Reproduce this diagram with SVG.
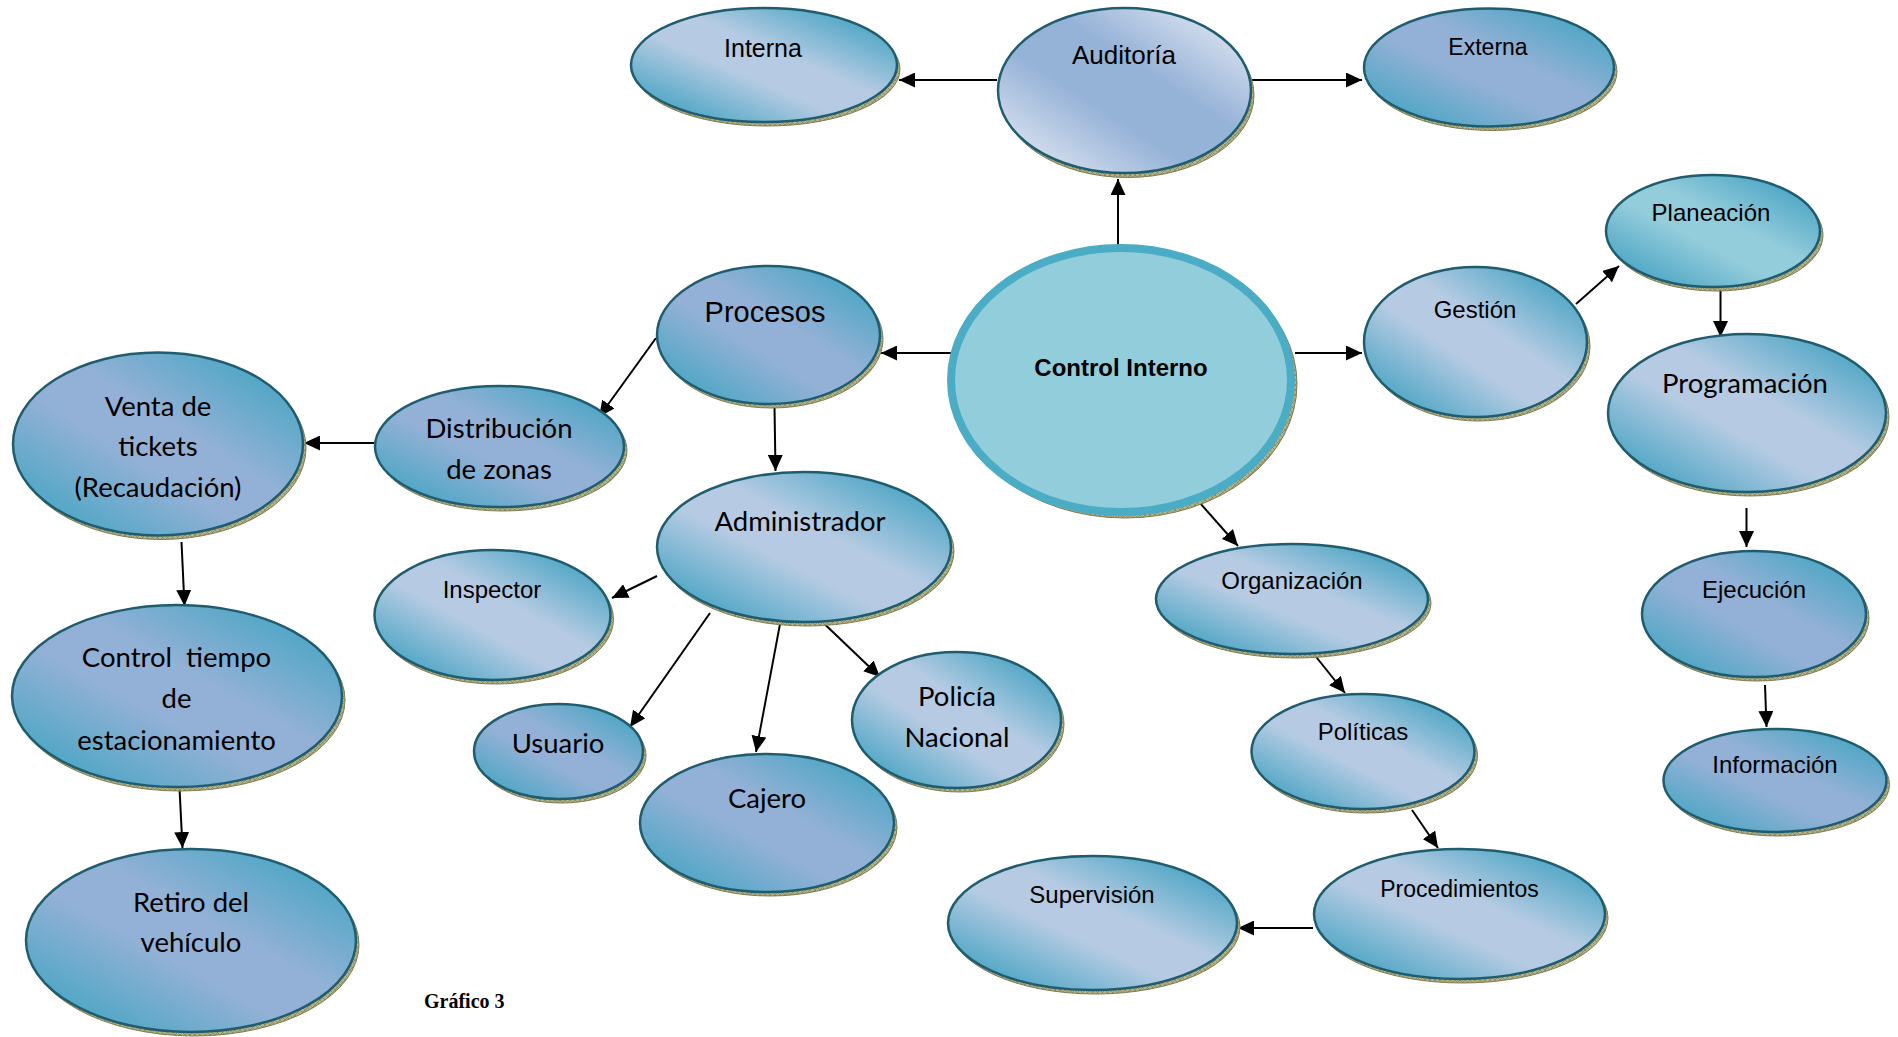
<svg xmlns="http://www.w3.org/2000/svg" width="1898" height="1037" viewBox="0 0 1898 1037">
  <defs>
    <style>
      .node { stroke: #1f5d6e; stroke-width: 2.5; }
      .shadow { fill: url(#grain); stroke: #7d7c52; stroke-width: 1; }
      .arial { font-family: "Liberation Sans", Arial, sans-serif; fill: #000; text-anchor: middle; }
      .cal { font-family: Lato, "Open Sans", sans-serif; fill: #000; text-anchor: middle; font-size: 27.5px; }
      .conn line { stroke: #000; stroke-width: 2; marker-end: url(#ah); }
    </style>
    <!-- diagonal "ocean" fills: teal ends, tinted middle -->
    <linearGradient id="gLav" x1="0" y1="1" x2="1" y2="0">
      <stop offset="0.12" stop-color="#4ea6c5"/>
      <stop offset="0.42" stop-color="#93b1d6"/>
      <stop offset="0.58" stop-color="#93b1d6"/>
      <stop offset="0.88" stop-color="#4ea6c5"/>
    </linearGradient>
    <linearGradient id="gLight" x1="0" y1="1" x2="1" y2="0">
      <stop offset="0.12" stop-color="#4ea6c5"/>
      <stop offset="0.42" stop-color="#b6cbe3"/>
      <stop offset="0.58" stop-color="#b6cbe3"/>
      <stop offset="0.88" stop-color="#4ea6c5"/>
    </linearGradient>
    <linearGradient id="gPlan" x1="0" y1="1" x2="1" y2="0">
      <stop offset="0.12" stop-color="#4ea6c5"/>
      <stop offset="0.42" stop-color="#93ccdb"/>
      <stop offset="0.58" stop-color="#93ccdb"/>
      <stop offset="0.88" stop-color="#4ea6c5"/>
    </linearGradient>
    <linearGradient id="gAud" x1="0" y1="1" x2="1" y2="0">
      <stop offset="0.15" stop-color="#cdd9eb"/>
      <stop offset="0.4" stop-color="#95b2d7"/>
      <stop offset="0.6" stop-color="#95b2d7"/>
      <stop offset="0.85" stop-color="#cdd9eb"/>
    </linearGradient>
    <!-- textured olive drop shadow -->
    <pattern id="grain" width="5" height="5" patternUnits="userSpaceOnUse">
      <rect width="5" height="5" fill="#b3b288"/>
      <path d="M0,0 L5,5 M5,0 L0,5" stroke="#7f7e55" stroke-width="0.7"/>
    </pattern>
    <marker id="ah" viewBox="0 0 16 15" refX="16" refY="7.5" markerWidth="16" markerHeight="15" markerUnits="userSpaceOnUse" orient="auto">
      <path d="M0,0 L16,7.5 L0,15 z" fill="#000"/>
    </marker>
  </defs>

  <rect width="1898" height="1037" fill="#fff"/>

  <!-- connectors -->
  <g id="connectors" class="conn">
    <line x1="1118" y1="245" x2="1118" y2="179"/>
    <line x1="997" y1="80" x2="899" y2="80"/>
    <line x1="1252" y1="80" x2="1362" y2="80"/>
    <line x1="952" y1="353" x2="881" y2="353"/>
    <line x1="1295" y1="353" x2="1362" y2="353"/>
    <line x1="1576" y1="304" x2="1619" y2="266"/>
    <line x1="1720.5" y1="289" x2="1720.5" y2="337"/>
    <line x1="1746.5" y1="508" x2="1746.5" y2="547"/>
    <line x1="1765" y1="685" x2="1766.5" y2="727"/>
    <line x1="1192" y1="494" x2="1238" y2="546"/>
    <line x1="1313" y1="653" x2="1345" y2="693"/>
    <line x1="1412" y1="810" x2="1438" y2="848"/>
    <line x1="1313" y1="928" x2="1238" y2="928"/>
    <line x1="656" y1="338" x2="599" y2="417"/>
    <line x1="374" y1="443" x2="304" y2="443"/>
    <line x1="181.5" y1="542" x2="184.5" y2="606"/>
    <line x1="179.5" y1="788" x2="182.5" y2="848"/>
    <line x1="774.5" y1="406" x2="775.5" y2="471"/>
    <line x1="657" y1="576" x2="612" y2="598"/>
    <line x1="710" y1="613" x2="630" y2="727"/>
    <line x1="780" y1="624" x2="756" y2="752"/>
    <line x1="824.5" y1="624" x2="880" y2="677"/>
  </g>

  <!-- nodes -->
  <g id="interna">
    <ellipse class="shadow" cx="767" cy="69" rx="133" ry="57"/>
    <ellipse class="node" cx="764" cy="65" rx="133" ry="57" fill="url(#gLight)" stroke="#2c8aa2"/>
    <text class="arial" x="763" y="57" font-size="25">Interna</text>
  </g>
  <g id="auditoria">
    <ellipse class="shadow" cx="1127.5" cy="95" rx="126.5" ry="82.5"/>
    <ellipse class="node" cx="1124.5" cy="90.5" rx="126.5" ry="82.5" fill="url(#gAud)" stroke="#2f528f"/>
    <text class="arial" x="1124" y="64" font-size="26">Auditoría</text>
  </g>
  <g id="externa">
    <ellipse class="shadow" cx="1492" cy="71.5" rx="125" ry="59"/>
    <ellipse class="node" cx="1489" cy="67.5" rx="125" ry="59" fill="url(#gLav)"/>
    <text class="arial" x="1488" y="55" font-size="23">Externa</text>
  </g>
  <g id="control-interno">
    <ellipse class="shadow" cx="1125" cy="384" rx="172" ry="134"/>
    <ellipse cx="1121" cy="380" rx="170" ry="132" fill="#92cddc" stroke="#4bacc6" stroke-width="8"/>
    <text class="arial" x="1121" y="376" font-size="24" font-weight="bold">Control Interno</text>
  </g>
  <g id="procesos">
    <ellipse class="shadow" cx="771.5" cy="339" rx="111.5" ry="69"/>
    <ellipse class="node" cx="768.5" cy="335" rx="111.5" ry="69" fill="url(#gLav)"/>
    <text class="arial" x="765" y="322" font-size="29">Procesos</text>
  </g>
  <g id="gestion">
    <ellipse class="shadow" cx="1478.5" cy="346" rx="111.5" ry="75"/>
    <ellipse class="node" cx="1475.5" cy="342" rx="111.5" ry="75" fill="url(#gLight)"/>
    <text class="arial" x="1475" y="318" font-size="24">Gestión</text>
  </g>
  <g id="planeacion">
    <ellipse class="shadow" cx="1716" cy="235" rx="107" ry="56"/>
    <ellipse class="node" cx="1713" cy="231" rx="107" ry="56" fill="url(#gPlan)"/>
    <text class="arial" x="1711" y="221" font-size="24">Planeación</text>
  </g>
  <g id="programacion">
    <ellipse class="shadow" cx="1750" cy="417" rx="139" ry="79"/>
    <ellipse class="node" cx="1747" cy="413" rx="139" ry="79" fill="url(#gLight)"/>
    <text class="cal" x="1745" y="393">Programación</text>
  </g>
  <g id="ejecucion">
    <ellipse class="shadow" cx="1757" cy="618" rx="112" ry="63"/>
    <ellipse class="node" cx="1754" cy="614" rx="112" ry="63" fill="url(#gLav)"/>
    <text class="arial" x="1754" y="598" font-size="24">Ejecución</text>
  </g>
  <g id="informacion">
    <ellipse class="shadow" cx="1778" cy="784.5" rx="111.5" ry="51.5"/>
    <ellipse class="node" cx="1775" cy="780.5" rx="111.5" ry="51.5" fill="url(#gLav)"/>
    <text class="arial" x="1775" y="773" font-size="24">Información</text>
  </g>
  <g id="organizacion">
    <ellipse class="shadow" cx="1295" cy="603" rx="136" ry="55"/>
    <ellipse class="node" cx="1292" cy="599" rx="136" ry="55" fill="url(#gLight)"/>
    <text class="arial" x="1292" y="589" font-size="24">Organización</text>
  </g>
  <g id="politicas">
    <ellipse class="shadow" cx="1366" cy="755.5" rx="111.5" ry="57.5"/>
    <ellipse class="node" cx="1363" cy="751.5" rx="111.5" ry="57.5" fill="url(#gLight)"/>
    <text class="arial" x="1363" y="740" font-size="24">Políticas</text>
  </g>
  <g id="procedimientos">
    <ellipse class="shadow" cx="1462.5" cy="918" rx="145.5" ry="65"/>
    <ellipse class="node" cx="1459.5" cy="914" rx="145.5" ry="65" fill="url(#gLight)"/>
    <text class="arial" x="1459.5" y="897" font-size="23">Procedimientos</text>
  </g>
  <g id="supervision">
    <ellipse class="shadow" cx="1095.5" cy="927" rx="144.5" ry="67"/>
    <ellipse class="node" cx="1092.5" cy="923" rx="144.5" ry="67" fill="url(#gLight)"/>
    <text class="arial" x="1092" y="903" font-size="24">Supervisión</text>
  </g>
  <g id="inspector">
    <ellipse class="shadow" cx="495.5" cy="619" rx="118" ry="65"/>
    <ellipse class="node" cx="492.5" cy="615" rx="118" ry="65" fill="url(#gLight)"/>
    <text class="arial" x="492" y="598" font-size="24">Inspector</text>
  </g>
  <g id="administrador">
    <ellipse class="shadow" cx="807" cy="551" rx="147" ry="75"/>
    <ellipse class="node" cx="804" cy="547" rx="147" ry="75" fill="url(#gLight)"/>
    <text class="cal" x="800" y="531">Administrador</text>
  </g>
  <g id="distribucion">
    <ellipse class="shadow" cx="502.5" cy="450.5" rx="124.5" ry="60.5"/>
    <ellipse class="node" cx="499.5" cy="446.5" rx="124.5" ry="60.5" fill="url(#gLav)"/>
    <text class="cal" x="499" y="438">Distribución</text>
    <text class="cal" x="499" y="479">de zonas</text>
  </g>
  <g id="venta-tickets">
    <ellipse class="shadow" cx="161" cy="448" rx="145" ry="91.5"/>
    <ellipse class="node" cx="158" cy="444" rx="145" ry="91.5" fill="url(#gLav)"/>
    <text class="cal" x="158" y="416">Venta de</text>
    <text class="cal" x="158" y="456">tickets</text>
    <text class="cal" x="158" y="497">(Recaudación)</text>
  </g>
  <g id="control-tiempo">
    <ellipse class="shadow" cx="180" cy="700" rx="165" ry="91"/>
    <ellipse class="node" cx="177" cy="696" rx="165" ry="91" fill="url(#gLav)"/>
    <text class="cal" x="176.5" y="667" xml:space="preserve">Control  tiempo</text>
    <text class="cal" x="176.5" y="708">de</text>
    <text class="cal" x="176.5" y="750">estacionamiento</text>
  </g>
  <g id="retiro">
    <ellipse class="shadow" cx="194" cy="944.5" rx="165" ry="91.5"/>
    <ellipse class="node" cx="191" cy="940.5" rx="165" ry="91.5" fill="url(#gLav)"/>
    <text class="cal" x="191" y="912">Retiro del</text>
    <text class="cal" x="191" y="952">vehículo</text>
  </g>
  <g id="usuario">
    <ellipse class="shadow" cx="561.5" cy="755.5" rx="84.5" ry="47.5"/>
    <ellipse class="node" cx="558.5" cy="751.5" rx="84.5" ry="47.5" fill="url(#gLav)"/>
    <text class="cal" x="558" y="753">Usuario</text>
  </g>
  <g id="cajero">
    <ellipse class="shadow" cx="770" cy="827" rx="127" ry="69"/>
    <ellipse class="node" cx="767" cy="823" rx="127" ry="69" fill="url(#gLav)"/>
    <text class="cal" x="767" y="808">Cajero</text>
  </g>
  <g id="policia">
    <ellipse class="shadow" cx="959.5" cy="724" rx="104.5" ry="68"/>
    <ellipse class="node" cx="956.5" cy="720" rx="104.5" ry="68" fill="url(#gLight)"/>
    <text class="cal" x="957" y="706">Policía</text>
    <text class="cal" x="957" y="747">Nacional</text>
  </g>

  <text x="424" y="1008" font-family="'Liberation Serif', 'Times New Roman', serif" font-weight="bold" font-size="20">Gráfico 3</text>
</svg>
